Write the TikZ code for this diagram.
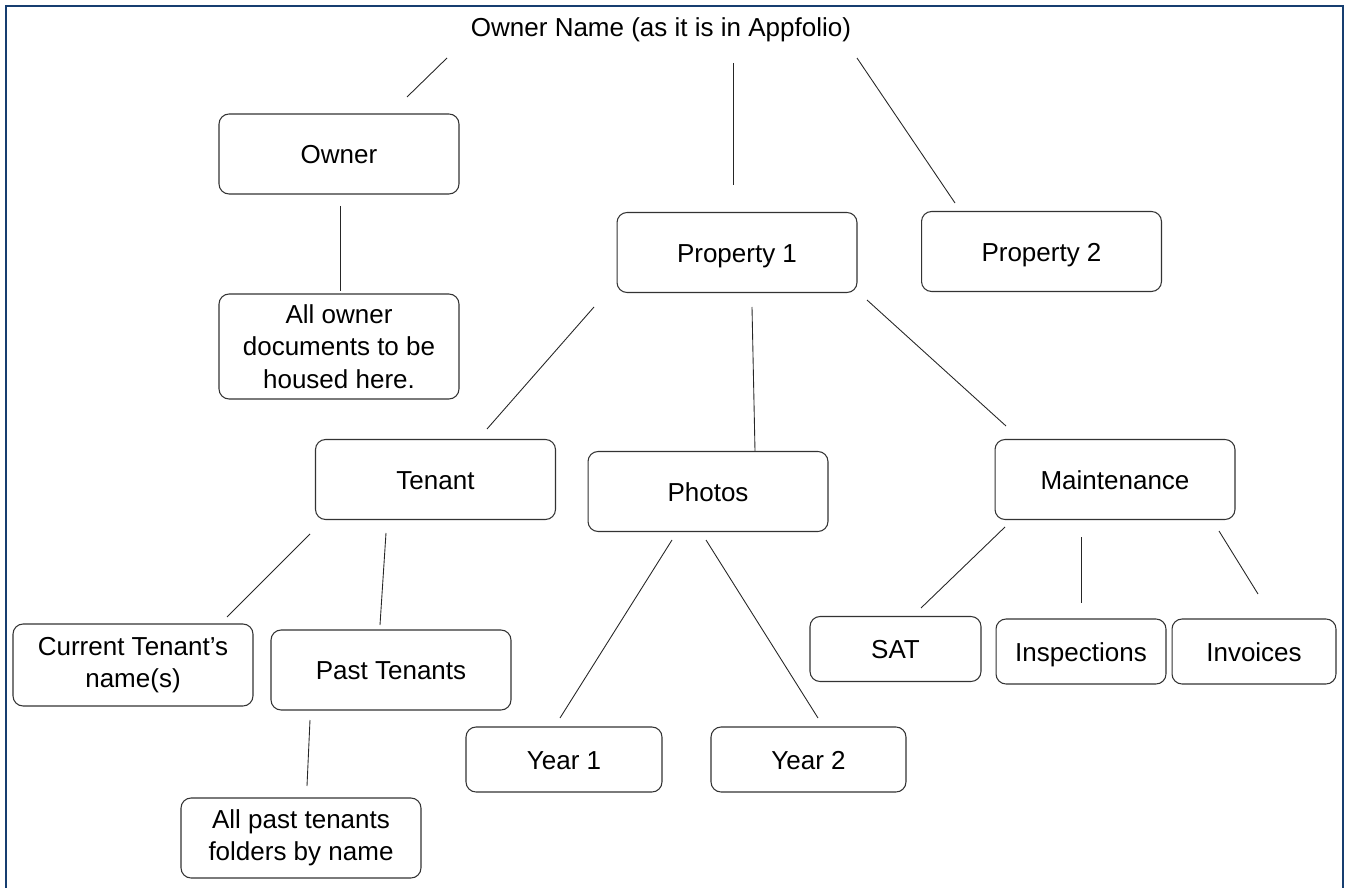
\documentclass[tikz,border=0pt]{standalone}
\usepackage{fontspec}
\setmainfont{Liberation Sans}
\usepackage{tikz}
\definecolor{frameblue}{RGB}{22,62,112}
\tikzset{
  treenode/.style = {align=center, inner sep=0pt, text centered,
    font=\fontsize{14.8}{18.5}\selectfont},
  fold_w/.style = {treenode, rectangle, rounded corners=0.2cm, draw=black!80,
    line width=0.6pt, minimum width=4.8cm, minimum height=1.6cm},% folder box, wide
  fold_s/.style = {treenode, rectangle, rounded corners=0.2cm, draw=black!80,
    line width=0.6pt, minimum height=1.3cm},% folder box, small
  onel/.style = {text height=2.3ex, text depth=0.2ex},% one line of text
  link/.style = {draw=black!85, line width=0.5pt},
}
\begin{document}
\begin{tikzpicture}[x=0.02cm,y=-0.02cm]
  \useasboundingbox (0,0) rectangle (1346,888);
  \draw[frameblue, line width=1.5pt] (6,888) -- (6,6) -- (1343,6) -- (1343,888);

  \node[treenode] (top) at (661,30) {Owner Name (as it is in Appfolio)};

  \node[fold_w, onel] (own) at (339,154) {Owner};
  \node[fold_w, minimum height=2.1cm] (owndoc) at (339,346.5) {All owner\\documents to be\\housed here.};
  \node[fold_w, onel] (p1) at (737,252.5) {Property 1};
  \node[fold_w, onel] (p2) at (1041.5,251.5) {Property 2};

  \node[fold_w, onel] (ten) at (435.5,479.5) {Tenant};
  \node[fold_w, onel] (pho) at (708,491.5) {Photos};
  \node[fold_w, onel] (mnt) at (1115,479.5) {Maintenance};

  \node[fold_w, minimum height=1.64cm] (cur) at (133,665) {Current Tenant's\\name(s)};
  \node[fold_w, onel] (past) at (391,670) {Past Tenants};
  \node[fold_w] (pastall) at (301,838) {All past tenants\\folders by name};

  \node[fold_s, onel, minimum width=3.92cm] (y1) at (564,759.5) {Year 1};
  \node[fold_s, onel, minimum width=3.9cm] (y2) at (808.5,759.5) {Year 2};

  \node[fold_s, onel, minimum width=3.42cm] (sat) at (895.5,649) {SAT};
  \node[fold_s, onel, minimum width=3.4cm] (insp) at (1081,651.5) {Inspections};
  \node[fold_s, onel, minimum width=3.28cm] (inv) at (1254,651.5) {Invoices};

  % line ends (the lines stop short of the boxes)
  \coordinate (l1a) at (447,58);   \coordinate (l1b) at (407,97);
  \coordinate (l2a) at (733,63);   \coordinate (l2b) at (733,185);
  \coordinate (l3a) at (857,58);   \coordinate (l3b) at (955,203);
  \coordinate (l4a) at (340,206);  \coordinate (l4b) at (340,291);
  \coordinate (l5a) at (594,307);  \coordinate (l5b) at (487,429);
  \coordinate (l6a) at (752,307);  \coordinate (l6b) at (755,451);
  \coordinate (l7a) at (867,300);  \coordinate (l7b) at (1006,426);
  \coordinate (l8a) at (310,534);  \coordinate (l8b) at (227,617);
  \coordinate (l9a) at (386,533);  \coordinate (l9b) at (380,625);
  \coordinate (l10a) at (310,720); \coordinate (l10b) at (307,786);
  \coordinate (l11a) at (672,540); \coordinate (l11b) at (560,718);
  \coordinate (l12a) at (706,540); \coordinate (l12b) at (818,718);
  \coordinate (l13a) at (1005,527); \coordinate (l13b) at (921,608);
  \coordinate (l14a) at (1081,537); \coordinate (l14b) at (1081,603);
  \coordinate (l15a) at (1219,531); \coordinate (l15b) at (1258,594);

  % top level
  \path[link] (l1a) edge (l1b);
  \path[link] (l2a) edge (l2b);
  \path[link] (l3a) edge (l3b);
  \path[link] (l4a) edge (l4b);
  % property 1
  \path[link] (l5a) edge (l5b);
  \path[link] (l6a) edge (l6b);
  \path[link] (l7a) edge (l7b);
  % tenant
  \path[link] (l8a) edge (l8b);
  \path[link] (l9a) edge (l9b);
  \path[link] (l10a) edge (l10b);
  % photos
  \path[link] (l11a) edge (l11b);
  \path[link] (l12a) edge (l12b);
  % maintenance
  \path[link] (l13a) edge (l13b);
  \path[link] (l14a) edge (l14b);
  \path[link] (l15a) edge (l15b);
\end{tikzpicture}
\end{document}
